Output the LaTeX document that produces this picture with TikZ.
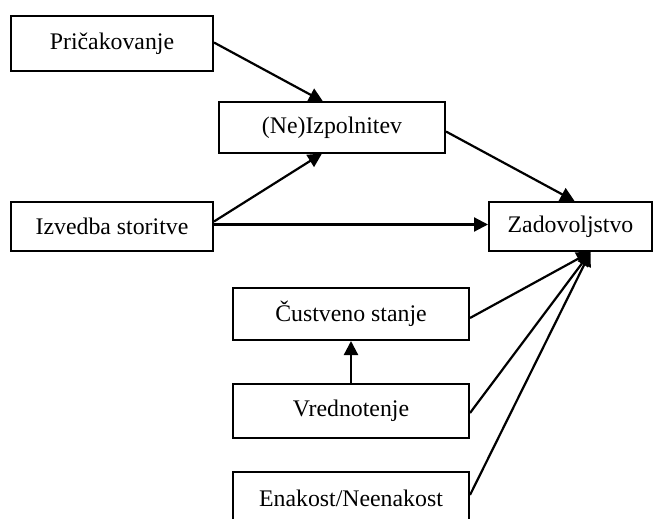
\documentclass[tikz,border=0pt]{standalone}
\usepackage{fontspec}
\setmainfont{Liberation Serif}
\usetikzlibrary{arrows.meta}
\begin{document}
\begin{tikzpicture}[x=1pt,y=-1pt,
  box/.style={draw,line width=2pt,inner sep=0pt,font=\fontsize{23.8}{28}\selectfont},
  conn/.style={line width=2.2pt,-{Triangle[length=14pt,width=14pt]}}]
\useasboundingbox (0,0) rectangle (654,519);
\clip (0,0) rectangle (654,519);
\node[box,minimum width=202pt,minimum height=55pt] (prik) at (112,43.5) {Pričakovanje};
\node[box,minimum width=226pt,minimum height=50pt] (neizp) at (332,127.5) {(Ne)Izpolnitev};
\node[box,minimum width=202pt,minimum height=49pt] (izv) at (112,226.5) {Izvedba storitve};
\node[box,minimum width=163pt,minimum height=49pt] (zad) at (570.5,226.5) {Zadovoljstvo};
\node[box,minimum width=236pt,minimum height=52pt] (cust) at (351,314) {Čustveno stanje};
\node[box,minimum width=236pt,minimum height=54pt] (vred) at (351,411) {Vrednotenje};
\node[box,minimum width=236pt,minimum height=52pt] (enak) at (351,498) {Enakost/Neenakost};
\draw[conn] ([yshift=1pt]prik.east) -- ([xshift=-9pt]neizp.north);
\draw[conn] ([yshift=5pt]izv.east) -- ([xshift=-10pt]neizp.south);
\draw[conn] ([yshift=2pt]izv.east) -- ([yshift=2pt]zad.west);
\draw[conn] ([yshift=-4pt]neizp.east) -- ([xshift=4pt]zad.north);
\draw[conn] ([yshift=-4pt]cust.east) -- ([xshift=20pt]zad.south);
\draw[conn] ([yshift=-2pt]vred.east) -- ([xshift=20pt]zad.south);
\draw[conn] ([yshift=3pt]enak.east) -- ([xshift=20pt]zad.south);
\draw[conn] (vred.north) -- (cust.south);
\end{tikzpicture}
\end{document}
